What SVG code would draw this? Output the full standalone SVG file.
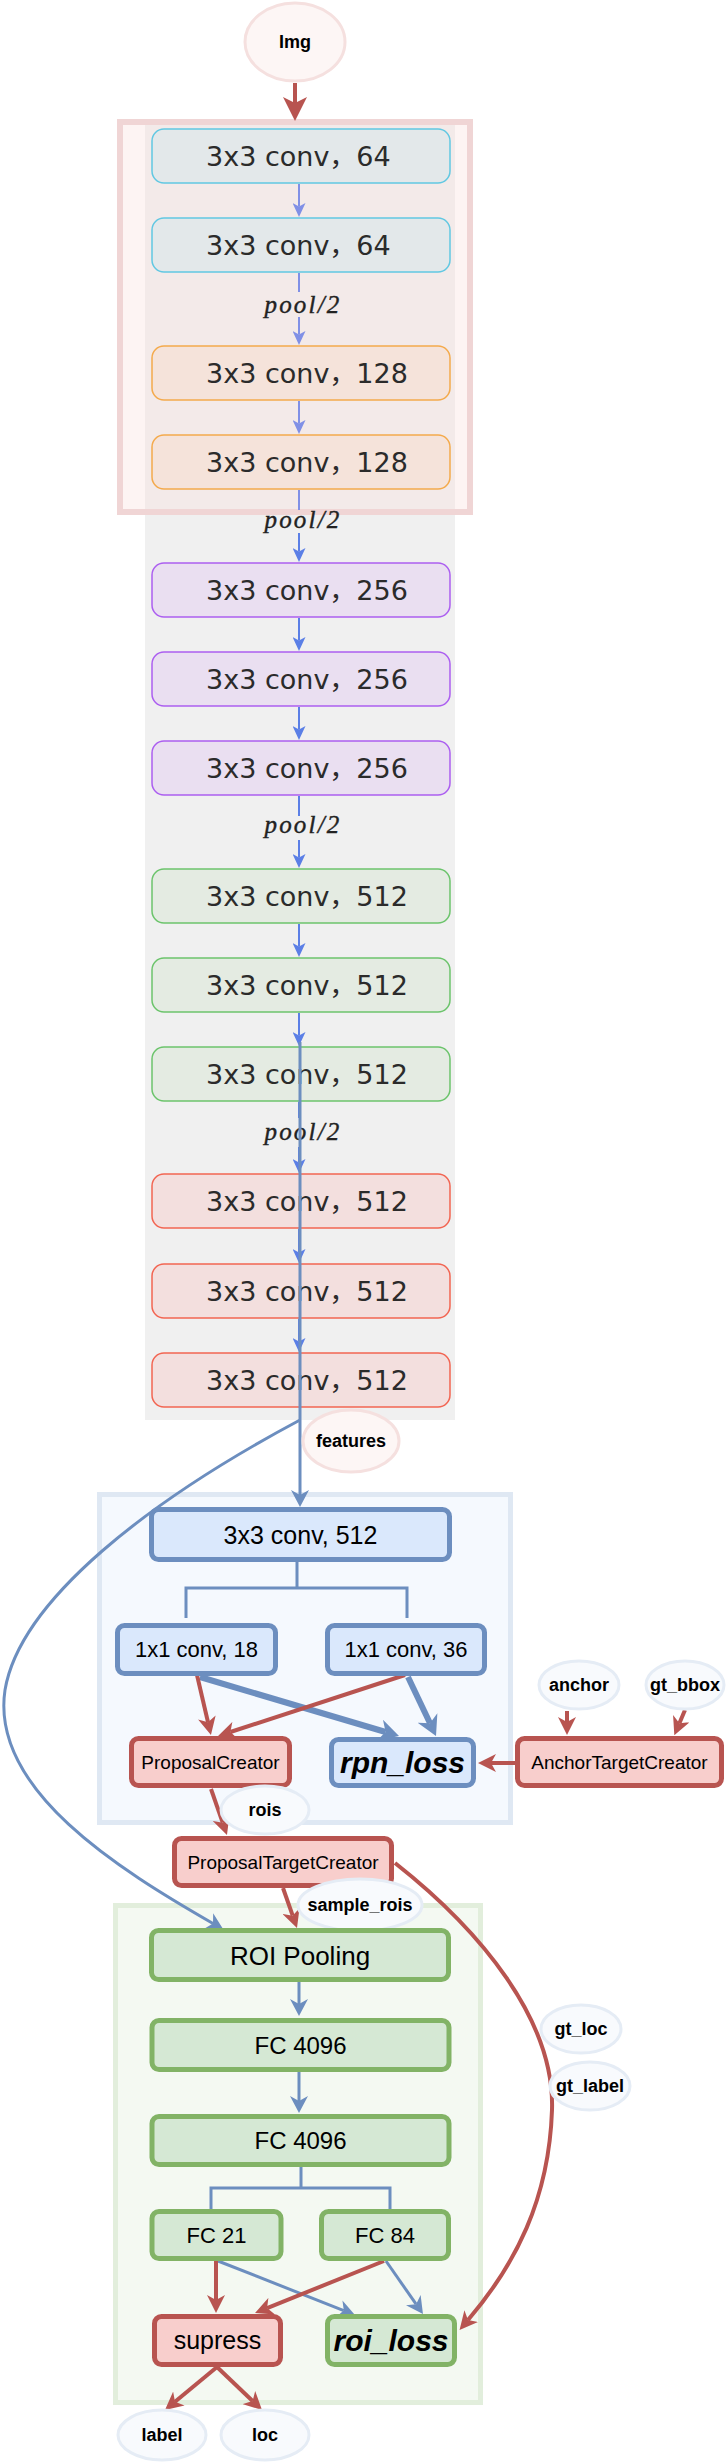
<svg xmlns="http://www.w3.org/2000/svg" width="728" height="2462" viewBox="0 0 728 2462">
<style>
text{font-family:"Liberation Sans",Arial,"Noto Sans CJK SC",sans-serif;text-anchor:middle;fill:#000}
.vt{font-family:"DejaVu Sans","Noto Sans CJK SC",sans-serif;font-size:27px;text-anchor:start;fill:#2b2b2b}
.pool{font-family:"Liberation Serif","Times New Roman",serif;font-style:italic;font-size:25px;letter-spacing:2.2px;fill:#222;stroke:#222;stroke-width:0.4}
.vb{stroke-width:1.5}
.c64{fill:#e3e8ea;stroke:#62c8e2}
.c128{fill:#f5e3da;stroke:#f4aa4c}
.c256{fill:#eadff1;stroke:#ac5ff0}
.c512g{fill:#e4ebe2;stroke:#6cc46c}
.c512r{fill:#f3dfde;stroke:#f26552}
.bl{fill:#dae8fc;stroke:#6c8ebf;stroke-width:5}
.rd{fill:#f8cecc;stroke:#b85450;stroke-width:5}
.gr{fill:#d5e8d4;stroke:#82b366;stroke-width:5}
.el{font-size:18px;font-weight:bold}
.eb{fill:#f8fafd;stroke:#e5ecf5;stroke-width:3}
.ep{fill:#fdf6f5;stroke:#f5e0df;stroke-width:3}
.va{fill:none;stroke:#5b7fe6;stroke-width:2}
.vat{fill:none;stroke:#8090e6;stroke-width:2}
.sl{fill:none;stroke:#6c8ebf;stroke-width:3}
.slb{fill:none;stroke:#6c8ebf;stroke-width:6}
.rl{fill:none;stroke:#b85450;stroke-width:4}
</style>
<defs>
<marker id="mImg" markerUnits="userSpaceOnUse" markerWidth="24" markerHeight="24" viewBox="0 0 24 24" refX="6" refY="12" orient="auto"><path d="M0,0 L24,12 L0,24 L6,12 Z" fill="#b85450"/></marker>
<marker id="mV" markerUnits="userSpaceOnUse" markerWidth="14" markerHeight="13" viewBox="0 0 14 13" refX="3.5" refY="6.5" orient="auto"><path d="M0,0 L14,6.5 L0,13 L3.5,6.5 Z" fill="#5b7fe6"/></marker>
<marker id="mVt" markerUnits="userSpaceOnUse" markerWidth="14" markerHeight="13" viewBox="0 0 14 13" refX="3.5" refY="6.5" orient="auto"><path d="M0,0 L14,6.5 L0,13 L3.5,6.5 Z" fill="#8090e6"/></marker>
<marker id="mS" markerUnits="userSpaceOnUse" markerWidth="17" markerHeight="18" viewBox="0 0 17 18" refX="5" refY="9" orient="auto"><path d="M0,0 L17,9 L0,18 L5,9 Z" fill="#6c8ebf"/></marker>
<marker id="mSB" markerUnits="userSpaceOnUse" markerWidth="20" markerHeight="22" viewBox="0 0 20 22" refX="6" refY="11" orient="auto"><path d="M0,0 L20,11 L0,22 L6,11 Z" fill="#6c8ebf"/></marker>
<marker id="mR" markerUnits="userSpaceOnUse" markerWidth="18" markerHeight="18" viewBox="0 0 18 18" refX="5" refY="9" orient="auto"><path d="M0,0 L18,9 L0,18 L5,9 Z" fill="#b85450"/></marker>
</defs>

<g id="backgrounds">
<rect x="145" y="120" width="310" height="1300" fill="#f0f0f0"/>
<rect x="120" y="122" width="350" height="390" fill="rgb(249,222,219)" fill-opacity="0.33" stroke="#f0d5d5" stroke-width="6"/>
<rect x="99.5" y="1494.5" width="411" height="328" fill="#f5f9fe" stroke="#dfe8f3" stroke-width="5"/>
<rect x="115.5" y="1905.5" width="365" height="497" fill="#f4f9f2" stroke="#e2eedc" stroke-width="5"/>
</g>

<g id="connectors">
<path class="rl" d="M295,83 V103" stroke-width="6" marker-end="url(#mImg)"/>
<path class="vat" d="M299,184 V206.5" marker-end="url(#mVt)"/>
<path class="vat" d="M299,273 V292"/>
<path class="vat" d="M299,317 V334.5" marker-end="url(#mVt)"/>
<path class="vat" d="M299,401 V423.5" marker-end="url(#mVt)"/>
<path class="vat" d="M299,490 V510"/>
<path class="va" d="M299,533 V551.5" marker-end="url(#mV)"/>
<path class="va" d="M299,618 V640.5" marker-end="url(#mV)"/>
<path class="va" d="M299,707 V729.5" marker-end="url(#mV)"/>
<path class="va" d="M299,796 V816"/>
<path class="va" d="M299,840 V857.5" marker-end="url(#mV)"/>
<path class="va" d="M299,924 V946.5" marker-end="url(#mV)"/>
<path class="va" d="M299,1013 V1035.5" marker-end="url(#mV)"/>
<path class="va" d="M299,1102 V1118"/>
<path class="va" d="M299,1147 V1162.5" marker-end="url(#mV)"/>
<path class="va" d="M299,1229 V1252.5" marker-end="url(#mV)"/>
<path class="va" d="M299,1319 V1341.5" marker-end="url(#mV)"/>
</g>

<g id="vgg">
<g id="n-c64a"><rect class="vb c64" x="152" y="129" width="298" height="54" rx="12"/><text class="vt" x="206" y="166">3x3 conv，64</text></g>
<g id="n-c64b"><rect class="vb c64" x="152" y="218" width="298" height="54" rx="12"/><text class="vt" x="206" y="255">3x3 conv，64</text></g>
<g id="n-c128a"><rect class="vb c128" x="152" y="346" width="298" height="54" rx="12"/><text class="vt" x="206" y="383">3x3 conv，128</text></g>
<g id="n-c128b"><rect class="vb c128" x="152" y="435" width="298" height="54" rx="12"/><text class="vt" x="206" y="472">3x3 conv，128</text></g>
<g id="n-c256a"><rect class="vb c256" x="152" y="563" width="298" height="54" rx="12"/><text class="vt" x="206" y="600">3x3 conv，256</text></g>
<g id="n-c256b"><rect class="vb c256" x="152" y="652" width="298" height="54" rx="12"/><text class="vt" x="206" y="689">3x3 conv，256</text></g>
<g id="n-c256c"><rect class="vb c256" x="152" y="741" width="298" height="54" rx="12"/><text class="vt" x="206" y="778">3x3 conv，256</text></g>
<g id="n-c512a"><rect class="vb c512g" x="152" y="869" width="298" height="54" rx="12"/><text class="vt" x="206" y="906">3x3 conv，512</text></g>
<g id="n-c512b"><rect class="vb c512g" x="152" y="958" width="298" height="54" rx="12"/><text class="vt" x="206" y="995">3x3 conv，512</text></g>
<g id="n-c512c"><rect class="vb c512g" x="152" y="1047" width="298" height="54" rx="12"/><text class="vt" x="206" y="1084">3x3 conv，512</text></g>
<g id="n-c512d"><rect class="vb c512r" x="152" y="1174" width="298" height="54" rx="12"/><text class="vt" x="206" y="1211">3x3 conv，512</text></g>
<g id="n-c512e"><rect class="vb c512r" x="152" y="1264" width="298" height="54" rx="12"/><text class="vt" x="206" y="1301">3x3 conv，512</text></g>
<g id="n-c512f"><rect class="vb c512r" x="152" y="1353" width="298" height="54" rx="12"/><text class="vt" x="206" y="1390">3x3 conv，512</text></g>
<text class="pool" x="303" y="313">pool/2</text>
<text class="pool" x="303" y="528">pool/2</text>
<text class="pool" x="303" y="833">pool/2</text>
<text class="pool" x="303" y="1140">pool/2</text>
</g>

<g id="connectors2">
<path class="sl" d="M300,1042 V1495" marker-end="url(#mS)"/>
<path class="sl" d="M300,1420 C150,1500 20,1600 5,1690 C-10,1790 120,1870 213,1923.5" marker-end="url(#mS)"/>
<path class="sl" d="M297,1562 V1588 M186,1618 V1588 H407 V1618"/>
<path class="slb" d="M200,1677 L385.6,1732" marker-end="url(#mSB)"/>
<path class="slb" d="M408,1677 L430,1723.3" marker-end="url(#mSB)"/>
<path class="rl" d="M197,1675 L208,1722.3" marker-end="url(#mR)"/>
<path class="rl" d="M405,1675 L230.4,1732" marker-end="url(#mR)"/>
<path class="rl" d="M567,1711 V1722" marker-end="url(#mR)"/>
<path class="rl" d="M685,1710 L679.4,1723.2" marker-end="url(#mR)"/>
<path class="rl" d="M515,1763 H491" marker-end="url(#mR)"/>
<path class="rl" d="M211,1789 L222.7,1822.7" marker-end="url(#mR)"/>
<path class="rl" d="M283,1888 L292.7,1915.7" marker-end="url(#mR)"/>
<path class="rl" d="M395,1863 C480,1930 555,2020 552,2110 C549,2200 515,2265 468,2320" marker-end="url(#mR)"/>
<path class="sl" d="M299,1982 V2004" marker-end="url(#mS)"/>
<path class="sl" d="M299,2072 V2101" marker-end="url(#mS)"/>
<path class="sl" d="M301,2167 V2188 M211,2210 V2188 H390 V2210"/>
<path class="sl" d="M218,2261 L343.8,2310.6" stroke-width="4" marker-end="url(#mS)"/>
<path class="sl" d="M386,2261 L416.1,2304.2" stroke-width="4" marker-end="url(#mS)"/>
<path class="rl" d="M216,2261 V2300" marker-end="url(#mR)"/>
<path class="rl" d="M384,2261 L267.1,2308.1" marker-end="url(#mR)"/>
<path class="rl" d="M217,2367 L175,2401.7" marker-end="url(#mR)"/>
<path class="rl" d="M217,2367 L252.6,2401" marker-end="url(#mR)"/>
</g>

<g id="n-img"><ellipse class="ep" cx="295" cy="42" rx="50" ry="39"/><text class="el" x="295" y="48">Img</text></g>
<g id="n-features"><ellipse class="ep" cx="351" cy="1441" rx="48" ry="31"/><text class="el" x="351" y="1447">features</text></g>

<g id="n-rpnconv"><rect class="bl" x="151.5" y="1509.5" width="298" height="50" rx="7"/><text x="300.5" y="1543.5" font-size="25">3x3 conv, 512</text></g>
<g id="n-conv18"><rect class="bl" x="117.5" y="1625.5" width="158" height="48" rx="7"/><text x="196.5" y="1657" font-size="22">1x1 conv, 18</text></g>
<g id="n-conv36"><rect class="bl" x="327.5" y="1625.5" width="157" height="48" rx="7"/><text x="406" y="1657" font-size="22">1x1 conv, 36</text></g>
<g id="n-proposal"><rect class="rd" x="131.5" y="1738.5" width="158" height="47" rx="7"/><text x="210.5" y="1769" font-size="19">ProposalCreator</text></g>
<g id="n-rpnloss"><rect class="bl" x="331.5" y="1739.5" width="142" height="46" rx="7"/><text x="402.5" y="1773" font-size="30" font-weight="bold" font-style="italic">rpn_loss</text></g>
<g id="n-atc"><rect class="rd" x="517.5" y="1738.5" width="204" height="47" rx="7"/><text x="619.5" y="1769" font-size="19">AnchorTargetCreator</text></g>
<g id="n-anchor"><ellipse class="eb" cx="579" cy="1685" rx="40" ry="24"/><text class="el" x="579" y="1691">anchor</text></g>
<g id="n-gtbbox"><ellipse class="eb" cx="685" cy="1685" rx="39" ry="24"/><text class="el" x="685" y="1691">gt_bbox</text></g>
<g id="n-rois"><ellipse class="eb" cx="265" cy="1810" rx="44" ry="24" fill="none"/><text class="el" x="265" y="1816">rois</text></g>
<g id="n-ptc"><rect class="rd" x="174.5" y="1838.5" width="217" height="47" rx="7"/><text x="283" y="1869" font-size="19">ProposalTargetCreator</text></g>
<g id="n-samplerois"><ellipse class="eb" cx="360" cy="1905" rx="62" ry="26" fill="none"/><text class="el" x="360" y="1911">sample_rois</text></g>
<g id="n-roipool"><rect class="gr" x="151.5" y="1930.5" width="297" height="49" rx="7"/><text x="300" y="1964.5" font-size="26">ROI Pooling</text></g>
<g id="n-fc1"><rect class="gr" x="152" y="2020.5" width="297" height="49" rx="7"/><text x="300.5" y="2053.5" font-size="24">FC 4096</text></g>
<g id="n-fc2"><rect class="gr" x="152" y="2116.5" width="297" height="48" rx="7"/><text x="300.5" y="2149" font-size="24">FC 4096</text></g>
<g id="n-fc21"><rect class="gr" x="152" y="2211.5" width="129" height="47" rx="7"/><text x="216.5" y="2243" font-size="22">FC 21</text></g>
<g id="n-fc84"><rect class="gr" x="321.5" y="2211.5" width="127" height="47" rx="7"/><text x="385" y="2243" font-size="22">FC 84</text></g>
<g id="n-supress"><rect class="rd" x="154.5" y="2316.5" width="126" height="48" rx="7"/><text x="217.5" y="2349" font-size="25">supress</text></g>
<g id="n-roiloss"><rect class="gr" x="327.5" y="2316.5" width="127" height="48" rx="7"/><text x="391" y="2351" font-size="30" font-weight="bold" font-style="italic">roi_loss</text></g>
<g id="n-gtloc"><ellipse class="eb" cx="581" cy="2029" rx="40" ry="24"/><text class="el" x="581" y="2035">gt_loc</text></g>
<g id="n-gtlabel"><ellipse class="eb" cx="590" cy="2086" rx="40" ry="24"/><text class="el" x="590" y="2092">gt_label</text></g>
<g id="n-label"><ellipse class="eb" cx="162" cy="2435" rx="44" ry="25"/><text class="el" x="162" y="2441">label</text></g>
<g id="n-loc"><ellipse class="eb" cx="265" cy="2435" rx="44" ry="25"/><text class="el" x="265" y="2441">loc</text></g>
</svg>
